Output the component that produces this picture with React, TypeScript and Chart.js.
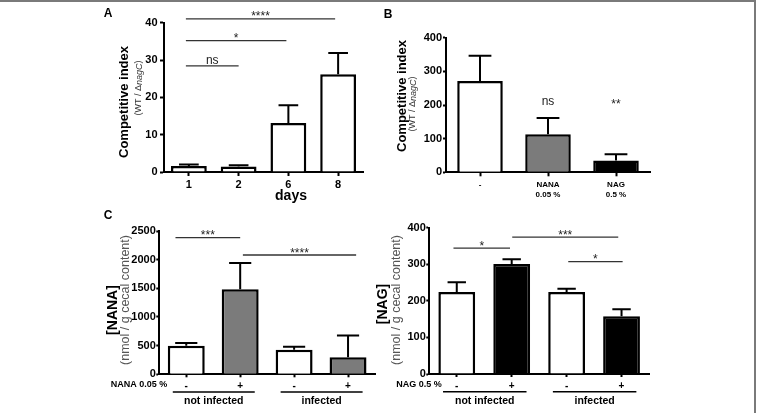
import React, { useEffect, useRef } from "react";
import { Chart, registerables } from "chart.js";
Chart.register(...registerables);

const FONT = "'Liberation Sans', Arial, Helvetica, sans-serif";

// ---------- Panel A : competitive index over days ----------
const dayLabels = ["1", "2", "6", "8"];
const dayIndex = [1.6, 1.5, 13.1, 26.2];
const dayIndexErr = [0.4, 0.3, 4.8, 5.7];
const dayColors = ["#ffffff", "#ffffff", "#ffffff", "#ffffff"];

// ---------- Panel B : competitive index by diet ----------
const dietLabels = [["-"], ["NANA", "0.05 %"], ["NAG", "0.5 %"]];
const dietIndex = [271, 113, 35];
const dietIndexErr = [75, 48, 19];
const dietColors = ["#ffffff", "#7b7b7b", "#000000"];
const dietSig = ["", "ns", "**"];

// ---------- Panel C / D : cecal concentrations ----------
const supplementTicks = ["-", "+", "-", "+"];
const groupNames = ["not infected", "infected"];
const nanaValues = [499, 1483, 430, 296];
const nanaErr = [47, 460, 52, 380];
const nanaColors = ["#ffffff", "#7b7b7b", "#ffffff", "#7b7b7b"];
const nagValues = [224, 301, 224, 158];
const nagErr = [27, 13, 9, 19];
const nagColors = ["#ffffff", "#000000", "#ffffff", "#000000"];

type Sig = { from: number; to: number; y: number; text: string };
type Run = { t: string; f: string };
type Txt = { x: number; y: number; runs: Run[]; color?: string; rotate?: boolean };

const sigA: Sig[] = [
  { from: -0.06, to: 1.0, y: 28.45, text: "ns" },
  { from: -0.06, to: 1.96, y: 35.2, text: "*" },
  { from: -0.06, to: 2.94, y: 41.0, text: "****" },
];
const sigC: Sig[] = [
  { from: -0.2, to: 1.0, y: 2383, text: "***" },
  { from: 1.05, to: 3.15, y: 2081, text: "****" },
];
const sigD: Sig[] = [
  { from: -0.06, to: 0.97, y: 344, text: "*" },
  { from: 1.01, to: 2.94, y: 374, text: "***" },
  { from: 2.03, to: 3.02, y: 307, text: "*" },
];

const b = (px: number) => `bold ${px}px ${FONT}`;
const n = (px: number) => `${px}px ${FONT}`;
const it = (px: number) => `italic ${px}px ${FONT}`;

interface PanelSpec {
  left: number; top: number; width: number; height: number;
  area: { l: number; t: number; r: number; b: number };
  labels: any[];
  values: number[]; errors: number[]; colors: string[];
  yMax: number; yStep: number; barPct: number;
  yFont: number; yTickLen: number; yPad: number;
  xFont: number; xLineHeight: number; xTickLen: number; xPad: number;
  capFrac: number;
  sigs: Sig[];
  texts: Txt[];
  topTexts?: { idx: number; y: number; text: string }[];
  groups?: boolean;
}

const panels: PanelSpec[] = [
  {
    left: 100, top: 0, width: 280, height: 205,
    area: { l: 164, t: 22.7, r: 363, b: 172 },
    labels: dayLabels, values: dayIndex, errors: dayIndexErr, colors: dayColors,
    yMax: 40, yStep: 10, barPct: 0.72,
    yFont: 11, yTickLen: 4, yPad: 2.5,
    xFont: 11, xLineHeight: 1.2, xTickLen: 4, xPad: 2, capFrac: 0.55,
    sigs: sigA,
    texts: [
      { x: 108, y: 14, runs: [{ t: "A", f: b(12) }] },
      { x: 124, y: 102, rotate: true, runs: [{ t: "Competitive index", f: b(13) }] },
      { x: 139, y: 88, rotate: true, color: "#333", runs: [{ t: "(WT / Δ", f: n(9) }, { t: "nagC", f: it(9) }, { t: ")", f: n(9) }] },
      { x: 291, y: 196, runs: [{ t: "days", f: b(14) }] },
    ],
  },
  {
    left: 380, top: 0, width: 280, height: 205,
    area: { l: 446, t: 37.7, r: 650, b: 172.3 },
    labels: dietLabels, values: dietIndex, errors: dietIndexErr, colors: dietColors,
    yMax: 400, yStep: 100, barPct: 0.67,
    yFont: 11, yTickLen: 3, yPad: 1,
    xFont: 8, xLineHeight: 1.25, xTickLen: 4, xPad: 3, capFrac: 0.5,
    sigs: [],
    topTexts: dietSig.map((t, i) => ({ idx: i, y: 210, text: t })),
    texts: [
      { x: 388, y: 15, runs: [{ t: "B", f: b(12) }] },
      { x: 402, y: 96, rotate: true, runs: [{ t: "Competitive index", f: b(13) }] },
      { x: 413, y: 104, rotate: true, color: "#333", runs: [{ t: "(WT / Δ", f: n(9) }, { t: "nagC", f: it(9) }, { t: ")", f: n(9) }] },
    ],
  },
  {
    left: 100, top: 200, width: 285, height: 213,
    area: { l: 159.3, t: 231, r: 375, b: 374.3 },
    labels: supplementTicks, values: nanaValues, errors: nanaErr, colors: nanaColors,
    yMax: 2500, yStep: 500, barPct: 0.685,
    yFont: 11, yTickLen: 3, yPad: 0.5,
    xFont: 10, xLineHeight: 1.2, xTickLen: 3, xPad: 3, capFrac: 0.6,
    sigs: sigC, groups: true,
    texts: [
      { x: 108, y: 216, runs: [{ t: "C", f: b(12) }] },
      { x: 113, y: 310, rotate: true, runs: [{ t: "[NANA]", f: b(14) }] },
      { x: 126, y: 300, rotate: true, color: "#555", runs: [{ t: "(nmol / g cecal content)", f: n(12.5) }] },
      { x: 139, y: 385, runs: [{ t: "NANA 0.05 %", f: b(9) }] },
    ],
  },
  {
    left: 370, top: 200, width: 290, height: 213,
    area: { l: 429.3, t: 227.7, r: 649, b: 374 },
    labels: supplementTicks, values: nagValues, errors: nagErr, colors: nagColors,
    yMax: 400, yStep: 100, barPct: 0.67,
    yFont: 11, yTickLen: 3, yPad: 0.5,
    xFont: 10, xLineHeight: 1.2, xTickLen: 3, xPad: 3, capFrac: 0.5,
    sigs: sigD, groups: true,
    texts: [
      { x: 383, y: 304, rotate: true, runs: [{ t: "[NAG]", f: b(14) }] },
      { x: 397, y: 300, rotate: true, color: "#555", runs: [{ t: "(nmol / g cecal content)", f: n(12.5) }] },
      { x: 419, y: 385, runs: [{ t: "NAG 0.5 %", f: b(9) }] },
    ],
  },
];

function drawRuns(ctx: CanvasRenderingContext2D, t: Txt, ox: number, oy: number) {
  ctx.save();
  ctx.fillStyle = t.color || "#000";
  ctx.textBaseline = "middle";
  ctx.textAlign = "left";
  let total = 0;
  const widths = t.runs.map((r) => {
    ctx.font = r.f;
    const w = ctx.measureText(r.t).width;
    total += w;
    return w;
  });
  ctx.translate(t.x - ox, t.y - oy);
  if (t.rotate) ctx.rotate(-Math.PI / 2);
  let x = -total / 2;
  t.runs.forEach((r, i) => {
    ctx.font = r.f;
    ctx.fillText(r.t, x, 0);
    x += widths[i];
  });
  ctx.restore();
}

function BarPanel({ spec }: { spec: PanelSpec }) {
  const ref = useRef<HTMLCanvasElement>(null);
  useEffect(() => {
    const s = spec;
    const yW = s.area.l - s.left;
    const padTop = s.area.t - s.top;
    const padRight = s.left + s.width - s.area.r;
    const xH = s.top + s.height - s.area.b;
    const plugin = {
      id: "extras",
      afterDatasetsDraw(chart: any) {
        const ctx: CanvasRenderingContext2D = chart.ctx;
        const ys = chart.scales.y;
        const meta = chart.getDatasetMeta(0);
        ctx.save();
        ctx.strokeStyle = "#000";
        ctx.lineWidth = 2;
        meta.data.forEach((el: any, i: number) => {
          const x = el.x;
          const w = el.width;
          const y0 = ys.getPixelForValue(s.values[i]);
          const y1 = ys.getPixelForValue(s.values[i] + s.errors[i]);
          ctx.beginPath();
          ctx.moveTo(x, y0);
          ctx.lineTo(x, y1);
          ctx.moveTo(x - (w * s.capFrac) / 2, y1);
          ctx.lineTo(x + (w * s.capFrac) / 2, y1);
          ctx.stroke();
        });
        ctx.restore();
      },
      afterDraw(chart: any) {
        const ctx: CanvasRenderingContext2D = chart.ctx;
        const xs = chart.scales.x;
        const ys = chart.scales.y;
        ctx.save();
        ctx.strokeStyle = "#333";
        ctx.fillStyle = "#222";
        ctx.lineWidth = 1.3;
        s.sigs.forEach((g) => {
          const y = ys.getPixelForValue(g.y);
          const x0 = xs.getPixelForValue(g.from);
          const x1 = xs.getPixelForValue(g.to);
          ctx.beginPath();
          ctx.moveTo(x0, y);
          ctx.lineTo(x1, y);
          ctx.stroke();
          ctx.font = n(12);
          ctx.textAlign = "center";
          ctx.textBaseline = "alphabetic";
          const dy = g.text.startsWith("*") ? 1.5 : -1.5;
          ctx.fillText(g.text, (x0 + x1) / 2, y + dy);
        });
        (s.topTexts || []).forEach((t) => {
          ctx.font = n(12);
          ctx.textAlign = "center";
          ctx.textBaseline = "middle";
          const y = ys.getPixelForValue(t.y);
          ctx.fillText(t.text, xs.getPixelForValue(t.idx), y + (t.text.startsWith("*") ? 3 : 0));
        });
        if (s.groups) {
          const base = chart.chartArea.bottom;
          ctx.strokeStyle = "#000";
          ctx.fillStyle = "#000";
          ctx.lineWidth = 1.5;
          groupNames.forEach((name, gi) => {
            const a = xs.getPixelForValue(gi * 2 - 0.25);
            const c = xs.getPixelForValue(gi * 2 + 1.27);
            ctx.beginPath();
            ctx.moveTo(a, base + 17.7);
            ctx.lineTo(c, base + 17.7);
            ctx.stroke();
            ctx.font = b(10.5);
            ctx.textAlign = "center";
            ctx.textBaseline = "middle";
            ctx.fillText(name, (a + c) / 2, base + 27);
          });
        }
        ctx.restore();
        s.texts.forEach((t) => drawRuns(ctx, t, s.left, s.top));
      },
    };
    const chart = new Chart(ref.current as HTMLCanvasElement, {
      type: "bar",
      data: {
        labels: s.labels,
        datasets: [
          {
            data: s.values,
            backgroundColor: s.colors,
            borderColor: "#000",
            borderWidth: 2.5,
            borderSkipped: "start",
            barPercentage: s.barPct,
            categoryPercentage: 1,
          },
        ],
      },
      options: {
        responsive: false,
        animation: false,
        devicePixelRatio: 1,
        events: [],
        layout: { padding: { top: padTop, right: padRight, left: 0, bottom: 0 } },
        plugins: { legend: { display: false }, tooltip: { enabled: false }, title: { display: false } },
        scales: {
          x: {
            type: "category",
            offset: true,
            grid: { display: true, drawOnChartArea: false, drawTicks: true, tickLength: s.xTickLen, tickWidth: 2, tickColor: "#000", offset: false },
            border: { display: true, color: "#000", width: 2 },
            ticks: {
              color: "#000",
              font: { family: FONT, weight: "bold", size: s.xFont, lineHeight: s.xLineHeight },
              padding: s.xPad,
              maxRotation: 0,
              minRotation: 0,
              autoSkip: false,
            },
            afterFit: (scale: any) => {
              scale.height = xH;
            },
          },
          y: {
            min: 0,
            max: s.yMax,
            grid: { display: true, drawOnChartArea: false, drawTicks: true, tickLength: s.yTickLen, tickWidth: 2, tickColor: "#000" },
            border: { display: true, color: "#000", width: 2 },
            ticks: {
              stepSize: s.yStep,
              color: "#000",
              padding: s.yPad,
              font: { family: FONT, weight: "bold", size: s.yFont },
              callback: (v: any) => String(v),
            },
            afterFit: (scale: any) => {
              scale.width = yW;
            },
          },
        },
      } as any,
      plugins: [plugin],
    });
    return () => chart.destroy();
  }, [spec]);
  return (
    <canvas
      ref={ref}
      width={spec.width}
      height={spec.height}
      style={{ position: "absolute", left: spec.left, top: spec.top, width: spec.width, height: spec.height }}
    />
  );
}

export default function App() {
  return (
    <div style={{ position: "fixed", left: 0, top: 0, width: 761, height: 413, background: "#fff", overflow: "hidden" }}>
      <div
        style={{
          position: "absolute",
          left: 0,
          top: 0,
          width: 756,
          height: 413,
          boxSizing: "border-box",
          borderTop: "2px solid #7a7a7a",
          borderRight: "2px solid #7a7a7a",
        }}
      />
      {panels.map((p, i) => (
        <BarPanel key={i} spec={p} />
      ))}
    </div>
  );
}
